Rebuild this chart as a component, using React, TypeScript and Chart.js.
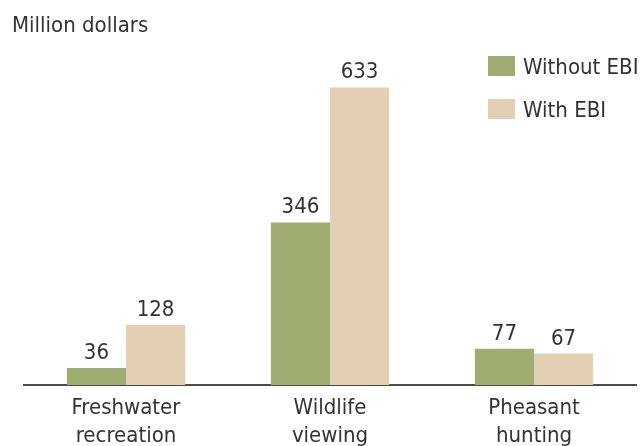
import React, { useEffect, useRef } from "react";
import { Chart, registerables } from "chart.js";

Chart.register(...registerables);

const categories: string[][] = [
  ["Freshwater", "recreation"],
  ["Wildlife", "viewing"],
  ["Pheasant", "hunting"],
];
const seriesNames = ["Without EBI", "With EBI"];
const withoutEBI = [36, 346, 77];
const withEBI = [128, 633, 67];
const yAxisTitle = "Million dollars";

const GREEN = "#9fad72";
const BEIGE = "#e3cfb3";
const TEXT = "#333333";
const FONT = "'DejaVu Sans Condensed', 'DejaVu Sans', sans-serif";
const SIZE = 22;

const labelsPlugin = {
  id: "valueLabels",
  afterDatasetsDraw(chart: any) {
    const ctx = chart.ctx;
    ctx.save();
    ctx.font = `${SIZE}px ${FONT}`;
    ctx.fillStyle = TEXT;
    ctx.textAlign = "center";
    ctx.textBaseline = "alphabetic";
    chart.data.datasets.forEach((ds: any, i: number) => {
      const meta = chart.getDatasetMeta(i);
      meta.data.forEach((el: any, j: number) => {
        ctx.fillText(String(ds.data[j]), el.x, el.y - 9);
      });
    });
    ctx.restore();
  },
};

const decorPlugin = {
  id: "decor",
  afterDraw(chart: any) {
    const ctx = chart.ctx;
    ctx.save();
    ctx.font = `${SIZE}px ${FONT}`;
    ctx.fillStyle = TEXT;
    ctx.textAlign = "left";
    ctx.textBaseline = "alphabetic";
    ctx.fillText(yAxisTitle, 12, 32);
    chart.data.datasets.forEach((ds: any, i: number) => {
      const y = 56 + i * 43;
      ctx.fillStyle = ds.backgroundColor;
      ctx.fillRect(488, y, 27, 20);
      ctx.fillStyle = TEXT;
      ctx.textBaseline = "alphabetic";
      ctx.fillText(ds.label, 523, y + 18);
    });
    ctx.restore();
  },
};

export default function App() {
  const ref = useRef<HTMLCanvasElement | null>(null);
  useEffect(() => {
    document.body.style.margin = "0";
    const canvas = ref.current;
    if (!canvas) return;
    const chart = new Chart(canvas, {
      type: "bar",
      data: {
        labels: categories as any,
        datasets: [
          { label: seriesNames[0], data: withoutEBI, backgroundColor: GREEN },
          { label: seriesNames[1], data: withEBI, backgroundColor: BEIGE },
        ],
      },
      options: {
        animation: false,
        responsive: false,
        devicePixelRatio: 1,
        layout: { padding: { top: 56, left: 24, right: 4, bottom: 0 } },
        datasets: {
          bar: { categoryPercentage: 0.58, barPercentage: 1.0 },
        },
        plugins: {
          legend: { display: false },
          tooltip: { enabled: false },
          title: { display: false },
        },
        scales: {
          x: {
            grid: { display: false, drawTicks: false },
            border: { display: true, color: "#4a4a4a", width: 2 },
            ticks: {
              color: TEXT,
              font: { family: FONT, size: SIZE, lineHeight: 1.25 },
              padding: 10,
              maxRotation: 0,
              autoSkip: false,
            },
            afterFit(axis: any) {
              axis.height = 61;
            },
          },
          y: {
            display: false,
            min: 0,
            max: 700,
          },
        },
      },
      plugins: [labelsPlugin, decorPlugin],
    });
    return () => chart.destroy();
  }, []);
  return (
    <div style={{ width: 640, height: 446 }}>
      <canvas ref={ref} width={640} height={446} />
    </div>
  );
}
